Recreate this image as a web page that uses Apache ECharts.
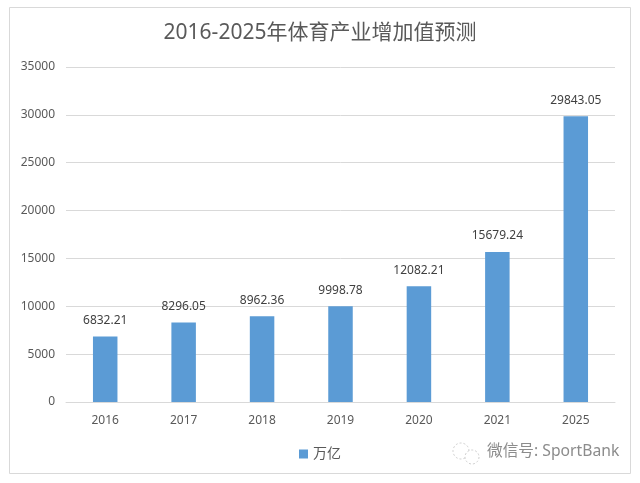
<!DOCTYPE html>
<html>
<head>
<meta charset="utf-8">
<style>html,body{margin:0;padding:0;background:#fff}#c{width:640px;height:483px}</style>
<script src="https://cdn.jsdelivr.net/npm/echarts@6/dist/echarts.min.js"></script>
</head>
<body>
<div id="c"></div>
<script>
// 2016-2025 sports industry value-added forecast
const titleText = '2016-2025年体育产业增加值预测';
const seriesName = '万亿';
const categories = ['2016', '2017', '2018', '2019', '2020', '2021', '2025'];
const values = [6832.21, 8296.05, 8962.36, 9998.78, 12082.21, 15679.24, 29843.05];
const creditText = '微信号: SportBank';

const font = '"Noto Sans", "Noto Sans CJK SC", sans-serif';
const chart = echarts.init(document.getElementById('c'), null, {renderer: 'canvas'});
chart.setOption({
  animation: false,
  backgroundColor: '#fff',
  textStyle: {fontFamily: font},
  title: {
    text: titleText, left: 'center', top: 18,
    textStyle: {fontSize: 21, fontWeight: 'normal', color: '#595959', fontFamily: font}
  },
  legend: {
    data: [{name: seriesName, icon: 'rect'}], left: 294, top: 442, itemWidth: 9, itemHeight: 9, itemGap: 4,
    textStyle: {fontSize: 14, color: '#595959', fontFamily: font}
  },
  grid: {left: 66, right: 25, top: 67, bottom: 81},
  xAxis: {
    type: 'category', data: categories,
    axisTick: {show: false},
    axisLine: {lineStyle: {color: '#d9d9d9', width: 1}},
    axisLabel: {fontSize: 12, color: '#595959', margin: 13}
  },
  yAxis: {
    type: 'value', min: 0, max: 35000, interval: 5000,
    axisLine: {show: false}, axisTick: {show: false},
    splitLine: {lineStyle: {color: '#d9d9d9', width: 1}},
    axisLabel: {fontSize: 12, color: '#595959', margin: 11, formatter: v => String(v)}
  },
  series: [{
    name: seriesName, type: 'bar', data: values, barWidth: 24.5,
    itemStyle: {color: '#5b9bd5'},
    label: {show: true, position: 'top', distance: 10, fontSize: 12, color: '#404040',
      formatter: p => p.value.toFixed(2)}
  }],
  graphic: [
    {type: 'rect', silent: true, shape: {x: 9.5, y: 7.5, width: 621, height: 466},
      style: {fill: 'none', stroke: '#d9d9d9', lineWidth: 1}},
    {type: 'text', left: 487, top: 444, silent: true,
      style: {text: creditText, font: '15.7px ' + font, fill: '#8c8c8c'}},
    // WeChat-style speech bubbles beside the account name
    {type: 'group', silent: true, children: [
      {type: 'circle', shape: {cx: 461, cy: 451, r: 8},
        style: {fill: 'none', stroke: '#cfcfcf', lineWidth: 1, lineDash: [2, 2]}},
      {type: 'circle', shape: {cx: 472, cy: 457, r: 7},
        style: {fill: '#fff', stroke: '#cfcfcf', lineWidth: 1, lineDash: [2, 2]}}
    ]}
  ]
});
</script>
</body>
</html>
